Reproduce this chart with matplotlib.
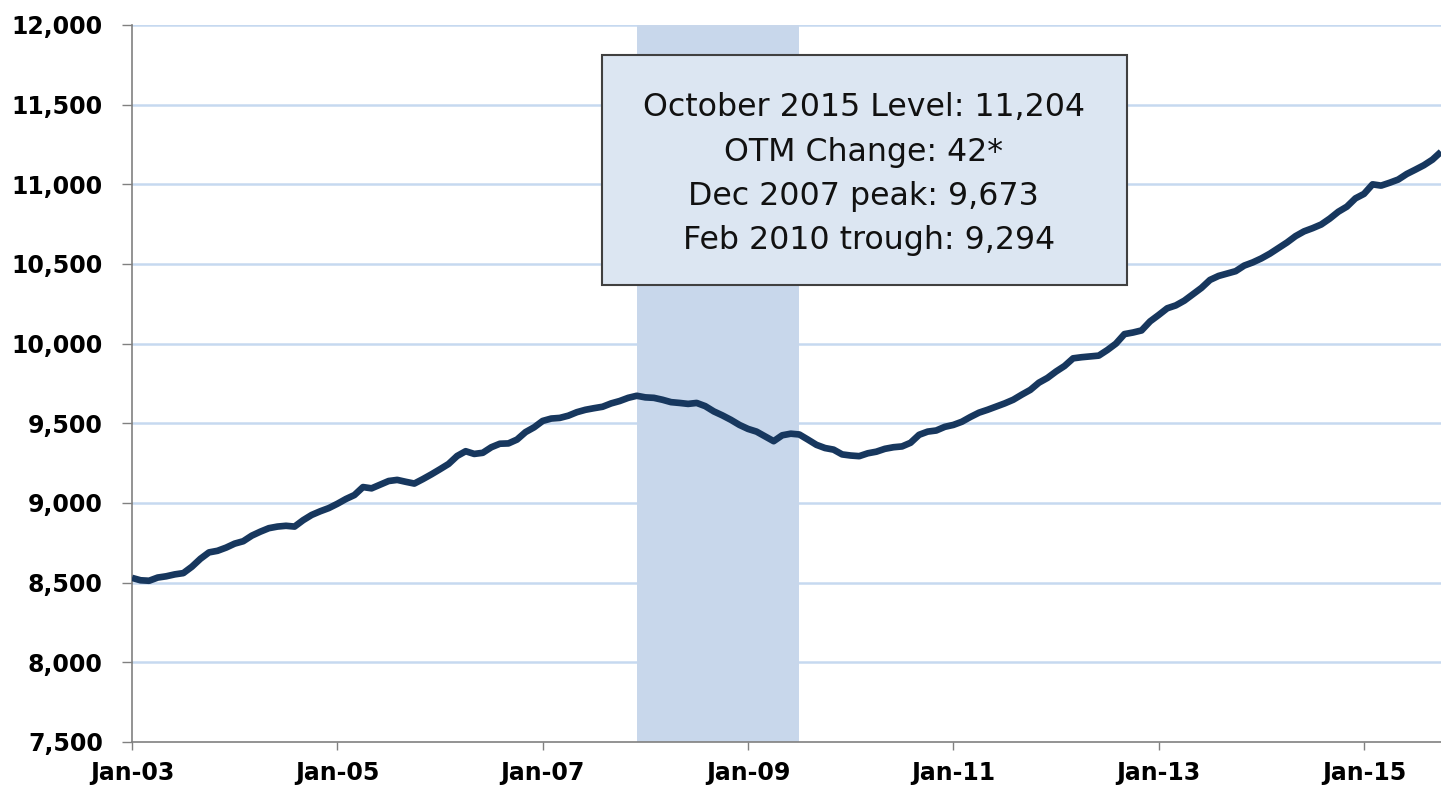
import numpy as np
import matplotlib
matplotlib.use("Agg")
import matplotlib.pyplot as plt
from matplotlib.patches import Rectangle

# monthly levels, Jan 2003 .. Oct 2015 (thousands)
values = [
    8530, 8515, 8512, 8532, 8540, 8552, 8560, 8600, 8650, 8690, 8700, 8720,        # 2003
    8745, 8760, 8795, 8820, 8842, 8852, 8857, 8852, 8892, 8925, 8948, 8968,        # 2004
    8995, 9025, 9050, 9100, 9092, 9115, 9138, 9145, 9133, 9122, 9150, 9180,        # 2005
    9212, 9245, 9295, 9325, 9308, 9315, 9350, 9372, 9374, 9398, 9445, 9475,        # 2006
    9515, 9530, 9534, 9548, 9570, 9585, 9595, 9604, 9625, 9640, 9660, 9673,        # 2007
    9663, 9660, 9648, 9633, 9628, 9622, 9628, 9608, 9575, 9550, 9522, 9490,        # 2008
    9465, 9448, 9418, 9388, 9425, 9435, 9430, 9398, 9365, 9345, 9335, 9305,        # 2009
    9298, 9294, 9312, 9322, 9340, 9350, 9355, 9378, 9428, 9448, 9455, 9478,        # 2010
    9490, 9510, 9540, 9567, 9585, 9605, 9625, 9648, 9680, 9710, 9755, 9785,        # 2011
    9825, 9860, 9908, 9915, 9920, 9925, 9960, 10000, 10060, 10070, 10083, 10140,   # 2012
    10180, 10222, 10240, 10270, 10310, 10350, 10400, 10425, 10440, 10455, 10490, 10510,  # 2013
    10535, 10565, 10600, 10635, 10675, 10705, 10725, 10748, 10785, 10828, 10860, 10912,  # 2014
    10940, 11000, 10992, 11010, 11030, 11065, 11092, 11120, 11155, 11204,          # 2015
]
months = np.arange(len(values))

tick_months = [0, 24, 48, 72, 96, 120, 144]
tick_labels = ["Jan-03", "Jan-05", "Jan-07", "Jan-09", "Jan-11", "Jan-13", "Jan-15"]
y_ticks = [7500, 8000, 8500, 9000, 9500, 10000, 10500, 11000, 11500, 12000]

recession = (59, 78)  # Dec 2007 .. Jun 2009

box_lines = [
    "October 2015 Level: 11,204",
    "OTM Change: 42*",
    "Dec 2007 peak: 9,673",
    " Feb 2010 trough: 9,294",
]

fig = plt.figure(figsize=(14.41, 7.89), dpi=100)
ax = fig.add_axes([132 / 1441, 47 / 789, 1 - 132 / 1441, 717 / 789])

ax.axvspan(recession[0], recession[1], color="#C8D7EB", lw=0, zorder=1)
for v in y_ticks[1:]:
    ax.axhline(v, color="#C6D9F0", lw=1.8, zorder=0)
ax.plot(months, values, color="#17375E", lw=4.8, solid_capstyle="butt", zorder=3)

ax.set_xlim(0, 153)
ax.set_ylim(7500, 12000)
ax.set_yticks(y_ticks)
ax.set_yticklabels([f"{v:,}" for v in y_ticks], fontsize=17, fontweight="bold",
                   family="DejaVu Sans")
ax.set_xticks(tick_months)
ax.set_xticklabels(tick_labels, fontsize=17, fontweight="bold", family="DejaVu Sans")
ax.tick_params(axis="y", direction="out", length=7, width=1, color="#808080", pad=14)
ax.tick_params(axis="x", direction="out", length=6, width=1, color="#808080", pad=8)

for side in ["top", "right"]:
    ax.spines[side].set_visible(False)
for side in ["left", "bottom"]:
    ax.spines[side].set_color("#808080")
    ax.spines[side].set_linewidth(1.2)

# annotation box
ax.add_patch(Rectangle((0.359, 0.637), 0.401, 0.321, transform=ax.transAxes,
                       facecolor="#DCE6F2", edgecolor="#404040", lw=1.5, zorder=5))
ax.text(0.559, 0.792, "\n".join(box_lines), transform=ax.transAxes,
        ha="center", va="center", fontsize=22.8, family="DejaVu Sans",
        color="#111111", linespacing=1.55, zorder=6)

fig.savefig("out.png", dpi=100)
